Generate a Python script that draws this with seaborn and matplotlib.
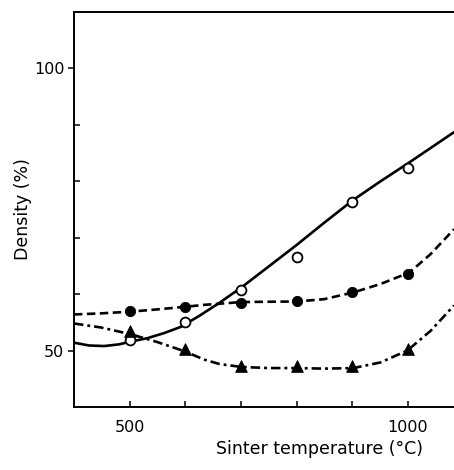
import matplotlib
matplotlib.use("Agg")
import matplotlib.pyplot as plt
import seaborn as sns
from matplotlib.ticker import FixedLocator

# Measured points
temps = [500, 600, 700, 800, 900, 1000]
open_pts = [51.9, 55.0, 60.8, 66.6, 76.4, 82.4]
filled_pts = [57.1, 57.7, 58.5, 58.7, 60.4, 63.6]
tri_pts = [53.4, 50.2, 47.2, 47.2, 47.2, 50.2]

# Fitted curves
solid_t = [400, 427, 454, 481, 502, 532, 562, 592, 626, 662, 701, 746, 800, 849, 902, 951, 1002, 1041, 1083]
solid_curve = [51.4, 50.9, 50.8, 51.1, 51.6, 52.2, 53.1, 54.2, 56.2, 58.5, 61.2, 64.6, 68.7, 72.6, 76.7, 80.0, 83.3, 85.9, 88.7]
dashed_t = [400, 450, 502, 550, 604, 634, 701, 800, 849, 902, 951, 1002, 1020, 1041, 1083]
dashed_curve = [56.4, 56.6, 56.9, 57.3, 57.8, 58.1, 58.6, 58.7, 59.1, 60.3, 61.8, 63.8, 65.3, 67.1, 71.5]
dashdot_t = [400, 448, 502, 550, 598, 634, 662, 701, 750, 800, 849, 902, 951, 999, 1041, 1083]
dashdot_curve = [54.8, 54.1, 52.9, 51.5, 49.9, 48.4, 47.6, 47.1, 46.9, 46.9, 46.8, 46.9, 47.9, 50.0, 53.5, 58.0]

sns.set_style("ticks")
plt.rcParams['font.family'] = ['DejaVu Sans']

fig = plt.figure(figsize=(4.54, 4.70), dpi=100)
ax = fig.add_axes([74/454, 63/470, 380/454, 395/470])

lw = 1.9
sns.lineplot(x=solid_t, y=solid_curve, ax=ax, color='black', lw=lw)
sns.lineplot(x=dashed_t, y=dashed_curve, ax=ax, color='black', lw=lw)
ax.lines[-1].set_dashes([3.2, 1.7])
sns.lineplot(x=dashdot_t, y=dashdot_curve, ax=ax, color='black', lw=lw)
ax.lines[-1].set_dashes([3.6, 1.5, 1.1, 1.5])

sns.scatterplot(x=temps, y=open_pts, ax=ax, marker='o', s=50, facecolor='white',
                edgecolor='black', linewidth=1.3, zorder=5)
sns.scatterplot(x=temps, y=filled_pts, ax=ax, marker='o', s=55, color='black',
                edgecolor='black', zorder=5)
sns.scatterplot(x=temps, y=tri_pts, ax=ax, marker='^', s=70, color='black',
                edgecolor='black', zorder=5)

ax.set_xlim(400, 1083)
ax.set_ylim(40, 110)

ax.xaxis.set_major_locator(FixedLocator([500, 1000]))
ax.xaxis.set_minor_locator(FixedLocator([600, 700, 800, 900]))
ax.yaxis.set_major_locator(FixedLocator([50, 100]))
ax.yaxis.set_minor_locator(FixedLocator([60, 70, 80, 90]))

ax.tick_params(axis='x', which='both', direction='in', length=4, width=1.1, labelsize=11.5, pad=9,
               colors='black')
ax.tick_params(axis='y', which='major', direction='out', length=4, width=1.1, labelsize=11.5, pad=3,
               colors='black')
ax.tick_params(axis='y', which='minor', direction='in', length=4, width=1.1, colors='black')

for s in ['left', 'top', 'bottom']:
    ax.spines[s].set_linewidth(1.4)
    ax.spines[s].set_color('black')
ax.spines['right'].set_visible(False)

ax.set_xlabel('Sinter temperature (°C)', fontsize=12.5, color='black')
ax.set_ylabel('Density (%)', fontsize=12.5, color='black')
ax.xaxis.set_label_coords(0.645, -0.084)
ax.yaxis.set_label_coords(-0.11, 0.5)

fig.savefig('out.png', dpi=100)
